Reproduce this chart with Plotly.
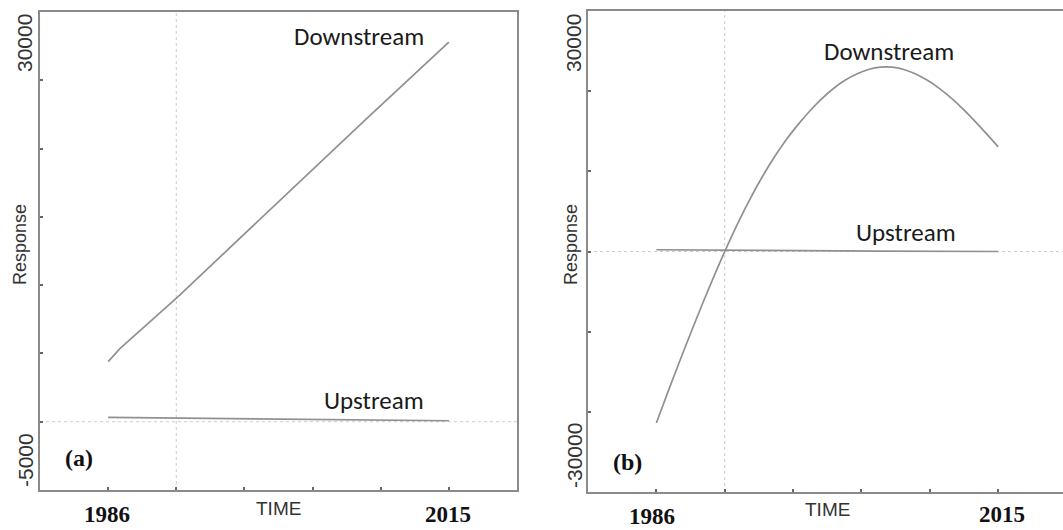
import plotly.graph_objects as go

# ---- data -------------------------------------------------------------
# (a) linear trend model
years_a_down = [1986, 1987, 1992, 2000, 2007, 2008, 2015]
resp_a_down = [4400, 5350, 9200, 15700, 21350, 22200, 27800]
years_a_up = [1986, 1995, 2005, 2015]
resp_a_up = [320, 230, 150, 70]

# (b) quadratic trend model, yearly values
years_b_down = list(range(1986, 2016))
resp_b_down = [-21400, -17450, -13600, -9850, -6200, -2700, 650, 3800, 6700, 9350,
               11750, 13900, 15800, 17500, 19000, 20300, 21350, 22150, 22700, 23000,
               23000, 22700, 22150, 21350, 20350, 19150, 17800, 16300, 14700, 13050]
years_b_up = [1986, 1995, 2005, 2015]
resp_b_up = [220, 120, 40, 0]

series_names = ["Downstream", "Upstream"]
x_labels = ["1986", "2015"]
y_labels_a = ["30000", "-5000"]
y_labels_b = ["30000", "-30000"]
panel_tags = ["(a)", "(b)"]

# ---- styling ----------------------------------------------------------
W, H = 1063, 530
LINE = "#909090"
AXIS = "#8a8a8a"
REF = "#cccccc"
SANS = "Liberation Sans, Arial, sans-serif"
SERIF = "Liberation Serif, Times New Roman, serif"
LABEL_FONT = "Carlito, Lato, sans-serif"

x_step = 5.8
x_ticks = [1980.2 + i * x_step for i in range(8)]


def px_x(p):
    return p / W


def px_y(p):
    return 1 - p / H


fig = go.Figure()

# panel (a)
fig.add_trace(go.Scatter(x=years_a_down, y=resp_a_down, mode="lines",
                         line=dict(color=LINE, width=1.7), xaxis="x", yaxis="y"))
fig.add_trace(go.Scatter(x=years_a_up, y=resp_a_up, mode="lines",
                         line=dict(color=LINE, width=1.7), xaxis="x", yaxis="y"))
# panel (b)
fig.add_trace(go.Scatter(x=years_b_down, y=resp_b_down, mode="lines",
                         line=dict(color=LINE, width=1.7, shape="spline", smoothing=1.0),
                         xaxis="x2", yaxis="y2"))
fig.add_trace(go.Scatter(x=years_b_up, y=resp_b_up, mode="lines",
                         line=dict(color=LINE, width=1.7), xaxis="x2", yaxis="y2"))

common_axis = dict(showgrid=False, zeroline=False, showline=True, linecolor=AXIS,
                   linewidth=2, ticks="inside", ticklen=3, tickwidth=2,
                   tickcolor="#666", showticklabels=False, fixedrange=True)

fig.update_layout(
    width=W, height=H,
    margin=dict(l=0, r=0, t=0, b=0),
    paper_bgcolor="white", plot_bgcolor="white",
    showlegend=False,
    xaxis=dict(domain=[px_x(40), px_x(517)], range=[1980.2, 2020.8],
               tickvals=x_ticks, mirror=True, anchor="y", **common_axis),
    yaxis=dict(domain=[px_y(490), px_y(12)], range=[-5000, 30000],
               tickvals=list(range(-5000, 30001, 5000)), mirror=True, anchor="x",
               **common_axis),
    xaxis2=dict(domain=[px_x(588), 1.0], range=[1980.2, 2020.5],
                tickvals=x_ticks, mirror=True, anchor="y2", **common_axis),
    yaxis2=dict(domain=[px_y(492), px_y(11)], range=[-30000, 30000],
                tickvals=list(range(-30000, 30001, 10000)), mirror=False, anchor="x2",
                **common_axis),
)

# dotted reference lines at the second tick and at zero
for xr, yr in (("x", "y"), ("x2", "y2")):
    fig.add_shape(type="line", xref=xr, yref=f"{yr} domain", x0=x_ticks[2], x1=x_ticks[2],
                  y0=0, y1=1, line=dict(color=REF, width=1, dash="dot"), layer="below")
    fig.add_shape(type="line", xref=f"{xr} domain", yref=yr, x0=0, x1=1, y0=0, y1=0,
                  line=dict(color=REF, width=1, dash="dot"), layer="below")

ann = []


def text(x, y, s, font, size, color, angle=0, bold=False):
    ann.append(dict(x=px_x(x), y=px_y(y), xref="paper", yref="paper",
                    text=f"<b>{s}</b>" if bold else s, showarrow=False,
                    xanchor="center", yanchor="middle", textangle=angle,
                    font=dict(family=font, size=size, color=color)))


# axis titles
text(20, 245, "Response", SANS, 18, "#333", angle=-90)
text(571, 245, "Response", SANS, 18, "#333", angle=-90)
text(278, 508, "TIME", SANS, 19, "#333")
text(827, 509, "TIME", SANS, 19, "#333")

# y end labels
text(25, 43, y_labels_a[0], SANS, 21, "#333", angle=-90)
text(25, 460, y_labels_a[1], SANS, 21, "#333", angle=-90)
text(574, 43, y_labels_b[0], SANS, 21, "#333", angle=-90)
text(574, 456, y_labels_b[1], SANS, 21, "#333", angle=-90)

# x end labels
text(107, 514, x_labels[0], SERIF, 23, "#111", bold=True)
text(448, 514, x_labels[1], SERIF, 23, "#111", bold=True)
text(652, 516, x_labels[0], SERIF, 23, "#111", bold=True)
text(1002, 514, x_labels[1], SERIF, 23, "#111", bold=True)

# panel tags
text(79, 458, panel_tags[0], SERIF, 24, "#111", bold=True)
text(627, 462, panel_tags[1], SERIF, 24, "#111", bold=True)

# series labels
text(359, 37, series_names[0], LABEL_FONT, 25, "#1a1a1a")
text(374, 400, series_names[1], LABEL_FONT, 25, "#1a1a1a")
text(889, 52, series_names[0], LABEL_FONT, 25, "#1a1a1a")
text(906, 232, series_names[1], LABEL_FONT, 25, "#1a1a1a")

fig.update_layout(annotations=ann)

fig.write_html("out.html")
